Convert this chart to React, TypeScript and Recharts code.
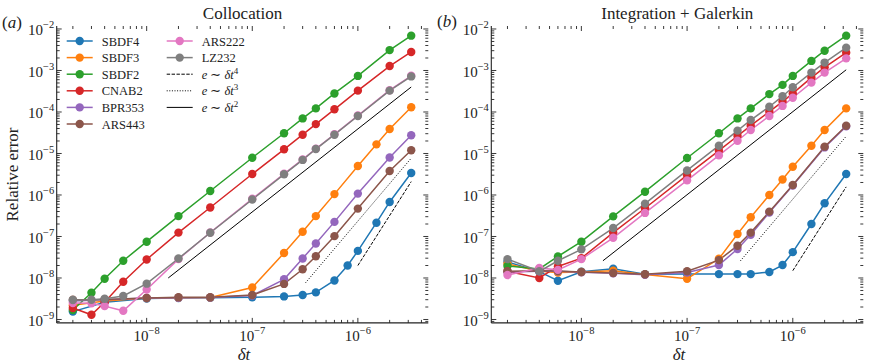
import { LineChart, Line, XAxis, YAxis } from "recharts";

// time steps shared by all runs (null = no run at that step)
const DT = [2e-9, 3e-9, 4e-9, 6e-9, 1e-8, 2e-8, 4e-8, 1e-7, 2e-7, 3e-7, 4e-7, 6e-7, 8e-7, 1e-6, 1.5e-6, 2e-6, 3.2e-6];

const SERIES = ["SBDF4", "SBDF3", "SBDF2", "CNAB2", "BPR353", "ARS443", "ARS222", "LZ232"];
const COLORS: Record<string, string> = {
  SBDF4: "#1f77b4",
  SBDF3: "#ff7f0e",
  SBDF2: "#2ca02c",
  CNAB2: "#d62728",
  BPR353: "#9467bd",
  ARS443: "#8c564b",
  ARS222: "#e377c2",
  LZ232: "#7f7f7f",
};

// (a) Collocation
const COLL_SBDF4 = [1.55e-9, null, 2.6e-9, null, 3.2e-9, 3.3e-9, 3.35e-9, 3.45e-9, 3.6e-9, 3.9e-9, 4.5e-9, 8.7e-9, 2.0e-8, 4.5e-8, 2.15e-7, 6.8e-7, 3.4e-6];
const COLL_SBDF3 = [2.2e-9, null, 2.8e-9, null, 3.3e-9, 3.35e-9, 3.4e-9, 5.9e-9, 4.0e-8, 1.3e-7, 3.1e-7, 1.05e-6, null, 5.0e-6, 1.66e-5, 3.9e-5, 1.3e-4];
const COLL_SBDF2 = [1.7e-9, 4.4e-9, 9.6e-9, 2.6e-8, 7.5e-8, 3.1e-7, 1.25e-6, 7.9e-6, 3.07e-5, 7.0e-5, 1.22e-4, 2.8e-4, null, 7.4e-4, null, 3.1e-3, 6.9e-3];
const COLL_CNAB2 = [1.9e-9, 1.3e-9, 2.6e-9, 8.1e-9, 2.8e-8, 1.24e-7, 5.0e-7, 3.2e-6, 1.26e-5, 2.84e-5, 5.1e-5, 1.16e-4, null, 3.27e-4, null, 1.28e-3, 2.8e-3];
const COLL_BPR353 = [2.8e-9, null, 3.0e-9, null, 3.3e-9, 3.35e-9, 3.4e-9, 3.8e-9, 9.3e-9, 2.95e-8, 6.8e-8, 2.25e-7, null, 1.08e-6, null, 8.0e-6, 2.75e-5];
const COLL_ARS443 = [3.0e-9, null, 3.05e-9, null, 3.3e-9, 3.45e-9, 3.45e-9, 3.9e-9, 7.2e-9, 1.62e-8, 3.35e-8, 1.02e-7, null, 4.7e-7, null, 3.8e-6, 1.2e-5];
const COLL_ARS222 = [2.5e-9, 2.45e-9, 2.1e-9, 1.62e-9, 5.3e-9, 2.85e-8, 1.25e-7, 8.1e-7, 3.25e-6, 7.2e-6, 1.3e-5, 2.9e-5, null, 8.2e-5, null, 3.35e-4, 7.45e-4];
const COLL_LZ232 = [2.95e-9, 3.0e-9, 3.15e-9, 3.7e-9, 7.3e-9, 2.95e-8, 1.23e-7, 7.8e-7, 3.15e-6, 7.0e-6, 1.28e-5, 2.84e-5, null, 8.0e-5, null, 3.27e-4, 7.2e-4];

// (b) Integration + Galerkin
const GAL_SBDF4 = [2.45e-8, null, 1.42e-8, 8.6e-9, 1.42e-8, 1.68e-8, 1.23e-8, 1.24e-8, 1.24e-8, 1.24e-8, 1.24e-8, 1.4e-8, 2.05e-8, 4.2e-8, 2.0e-7, 6.3e-7, 3.2e-6];
const GAL_SBDF3 = [2.2e-8, null, 1.45e-8, 1.35e-8, 1.4e-8, 1.5e-8, 1.22e-8, 9.6e-9, 2.9e-8, 1.15e-7, 2.9e-7, 1.0e-6, 2.36e-6, 4.8e-6, 1.54e-5, 3.68e-5, 1.22e-4];
const GAL_SBDF2 = [1.95e-8, null, 1.65e-8, 3.3e-8, 7.5e-8, 3.05e-7, 1.2e-6, 7.8e-6, 3.07e-5, 7.0e-5, 1.22e-4, 2.7e-4, 4.5e-4, 7.4e-4, 1.7e-3, 3.0e-3, 6.9e-3];
const GAL_CNAB2 = [1.45e-8, null, 1.0e-8, 1.9e-8, 3.0e-8, 1.24e-7, 4.8e-7, 3.0e-6, 1.17e-5, 2.64e-5, 4.67e-5, 1.02e-4, 1.78e-4, 2.8e-4, 6.7e-4, 1.19e-3, 2.69e-3];
const GAL_BPR353 = [1.4e-8, null, 1.45e-8, 1.45e-8, 1.38e-8, 1.3e-8, 1.2e-8, 1.35e-8, 2.06e-8, 5.0e-8, 1.1e-7, 3.8e-7, null, 1.7e-6, null, 1.4e-5, 4.5e-5];
const GAL_ARS443 = [1.45e-8, null, 1.5e-8, 1.48e-8, 1.4e-8, 1.32e-8, 1.23e-8, 1.45e-8, 2.7e-8, 6.0e-8, 1.24e-7, 3.97e-7, null, 1.74e-6, null, 1.46e-5, 4.67e-5];
const GAL_ARS222 = [1.18e-8, null, 1.75e-8, 1.57e-8, 2.85e-8, 9.3e-8, 3.7e-7, 2.25e-6, 9.0e-6, 2.03e-5, 3.68e-5, 8.0e-5, 1.4e-4, 2.2e-4, 5.1e-4, 8.9e-4, 1.96e-3];
const GAL_LZ232 = [2.85e-8, null, 1.45e-8, 2.6e-8, 4.9e-8, 1.6e-7, 6.2e-7, 3.9e-6, 1.54e-5, 3.55e-5, 6.4e-5, 1.34e-4, 2.4e-4, 3.94e-4, 8.9e-4, 1.55e-3, 3.55e-3];

// slope guides: end points in dt and error
const REF4_DT = [1e-6, 3.2e-6];
const REF3_DT = [3.2e-7, 3.2e-6];
const REF2_DT = [1.6e-8, 3.2e-6];
const COLL_REF4 = [2.0e-8, 2.1e-6];
const COLL_REF3 = [7.7e-9, 7.7e-6];
const COLL_REF2 = [1.0e-8, 4.0e-4];
const GAL_REF4 = [1.5e-8, 1.57e-6];
const GAL_REF3 = [2.6e-8, 2.6e-5];
const GAL_REF2 = [2.6e-8, 1.04e-3];

// axes
const X_DOMAIN = [1.406e-9, 4.645e-6];
const Y_DOMAIN = [8.28e-10, 1.18e-2];
const X_MAJOR = [1e-8, 1e-7, 1e-6];
const X_EXP = ["−8", "−7", "−6"];
const Y_MAJOR = [1e-9, 1e-8, 1e-7, 1e-6, 1e-5, 1e-4, 1e-3, 1e-2];
const Y_EXP = ["−9", "−8", "−7", "−6", "−5", "−4", "−3", "−2"];

const minorTicks = (decades: number[], domain: number[]) => {
  const out: number[] = [];
  [decades[0] / 10, ...decades].forEach((d) => {
    for (let m = 2; m <= 9; m++) {
      const v = d * m;
      if (v > domain[0] && v < domain[1]) out.push(v);
    }
  });
  return out;
};
const X_TICKS = [...X_MAJOR, ...minorTicks(X_MAJOR, X_DOMAIN)].sort((a, b) => a - b);
const Y_TICKS = [...Y_MAJOR, ...minorTicks(Y_MAJOR, Y_DOMAIN)].sort((a, b) => a - b);

const FONT = "'Liberation Serif', 'Times New Roman', serif";
const INK = "#222";

type Plot = { left: number; right: number; top: number; bottom: number };

const buildRows = (cols: Record<string, (number | null)[]>) =>
  DT.map((dt, i) => {
    const row: Record<string, number | null> = { dt };
    SERIES.forEach((s) => (row[s] = cols[s][i]));
    return row;
  });

const refRows = (dts: number[], es: number[]) => dts.map((dt, i) => ({ dt, e: es[i] }));

const COLL_ROWS = buildRows({
  SBDF4: COLL_SBDF4, SBDF3: COLL_SBDF3, SBDF2: COLL_SBDF2, CNAB2: COLL_CNAB2,
  BPR353: COLL_BPR353, ARS443: COLL_ARS443, ARS222: COLL_ARS222, LZ232: COLL_LZ232,
});
const GAL_ROWS = buildRows({
  SBDF4: GAL_SBDF4, SBDF3: GAL_SBDF3, SBDF2: GAL_SBDF2, CNAB2: GAL_CNAB2,
  BPR353: GAL_BPR353, ARS443: GAL_ARS443, ARS222: GAL_ARS222, LZ232: GAL_LZ232,
});

function xTick(plot: Plot) {
  return (props: any) => {
    const { x, payload } = props;
    const i = X_MAJOR.indexOf(payload.value);
    const len = i >= 0 ? 5 : 3;
    return (
      <g>
        <line x1={x} x2={x} y1={plot.bottom} y2={plot.bottom - len} stroke={INK} strokeWidth={0.9} />
        <line x1={x} x2={x} y1={plot.top} y2={plot.top + len} stroke={INK} strokeWidth={0.9} />
        {i >= 0 && (
          <text x={x} y={plot.bottom + 18.5} textAnchor="middle" fontFamily={FONT} fontSize={15} fill={INK}>
            10<tspan dy={-7} fontSize={10.5}>{X_EXP[i]}</tspan>
          </text>
        )}
      </g>
    );
  };
}

function yTick(plot: Plot) {
  return (props: any) => {
    const { y, payload } = props;
    const i = Y_MAJOR.indexOf(payload.value);
    const len = i >= 0 ? 5 : 3;
    return (
      <g>
        <line x1={plot.left} x2={plot.left + len} y1={y} y2={y} stroke={INK} strokeWidth={0.9} />
        <line x1={plot.right} x2={plot.right - len} y1={y} y2={y} stroke={INK} strokeWidth={0.9} />
        {i >= 0 && (
          <text x={plot.left - 2.5} y={y + 6.5} textAnchor="end" fontFamily={FONT} fontSize={15} fill={INK}>
            10<tspan dy={-7} fontSize={10.5}>{Y_EXP[i]}</tspan>
          </text>
        )}
      </g>
    );
  };
}

function Panel({
  rows, refs, width, left, plot,
}: {
  rows: Record<string, number | null>[];
  refs: { dt: number; e: number }[][];
  width: number;
  left: number;
  plot: Plot;
}) {
  const height = 363;
  const frame = { stroke: INK, strokeWidth: 1.1 };
  return (
    <div style={{ position: "absolute", left, top: 0 }}>
      <LineChart
        width={width}
        height={height}
        data={rows}
        margin={{ top: plot.top, right: width - plot.right, bottom: 0, left: 0 }}
      >
        <XAxis
          dataKey="dt" type="number" scale="log" domain={X_DOMAIN} allowDataOverflow
          ticks={X_TICKS} interval={0} tick={xTick(plot)} tickLine={false} axisLine={frame}
          height={height - plot.bottom}
        />
        <XAxis
          xAxisId="top" orientation="top" dataKey="dt" type="number" scale="log" domain={X_DOMAIN}
          allowDataOverflow tick={false} tickLine={false} axisLine={frame} height={0}
        />
        <YAxis
          type="number" scale="log" domain={Y_DOMAIN} allowDataOverflow ticks={Y_TICKS} interval={0}
          tick={yTick(plot)} tickLine={false} axisLine={frame} width={plot.left}
        />
        <YAxis
          yAxisId="right" orientation="right" type="number" scale="log" domain={Y_DOMAIN}
          allowDataOverflow tick={false} tickLine={false} axisLine={frame} width={0}
        />
        {SERIES.map((s) => (
          <Line
            key={s}
            name={s}
            dataKey={s}
            stroke={COLORS[s]}
            strokeWidth={1.5}
            dot={{ r: 4.2, fill: COLORS[s], stroke: COLORS[s], strokeWidth: 0 }}
            activeDot={false}
            connectNulls
            isAnimationActive={false}
          />
        ))}
        {refs.map((d, i) => (
          <Line
            key={"ref" + i}
            data={d}
            dataKey="e"
            stroke="#000"
            strokeWidth={1}
            strokeDasharray={["3.4 1.5", "1 1.6", undefined][i]}
            dot={false}
            activeDot={false}
            isAnimationActive={false}
          />
        ))}
      </LineChart>
    </div>
  );
}

const LEGEND_COL1 = ["SBDF4", "SBDF3", "SBDF2", "CNAB2", "BPR353", "ARS443"];
const LEGEND_COL2 = ["ARS222", "LZ232"];
const LEGEND_REF = [
  { exp: "4", dash: "3.4 1.5" },
  { exp: "3", dash: "1 1.6" },
  { exp: "2", dash: undefined as string | undefined },
];

function Overlay() {
  const rowY = (i: number) => 41 + i * 16.6;
  const item = (x: number, i: number, color: string, label: any, dash?: string, marker = true) => (
    <g key={x + "-" + i}>
      <line x1={x} x2={x + 26} y1={rowY(i)} y2={rowY(i)} stroke={color} strokeWidth={marker ? 1.5 : 1} strokeDasharray={dash} />
      {marker && <circle cx={x + 13} cy={rowY(i)} r={4.2} fill={color} />}
      <text x={x + 35} y={rowY(i) + 4.5} fontFamily={FONT} fontSize={12.5} fill={INK}>
        {label}
      </text>
    </g>
  );
  return (
    <svg width={872} height={363} style={{ position: "absolute", left: 0, top: 0, pointerEvents: "none" }}>
      <text x={242.5} y={18.5} textAnchor="middle" fontFamily={FONT} fontSize={17} fill={INK}>Collocation</text>
      <text x={677.3} y={18.5} textAnchor="middle" fontFamily={FONT} fontSize={17} fill={INK}>Integration + Galerkin</text>
      <text x={2} y={28} fontFamily={FONT} fontSize={17} fill={INK}>(<tspan fontStyle="italic">a</tspan>)</text>
      <text x={437} y={27} fontFamily={FONT} fontSize={17} fill={INK}>(<tspan fontStyle="italic">b</tspan>)</text>
      <text
        x={12.5} y={174.5} transform="rotate(-90 12.5 174.5)" textAnchor="middle" dominantBaseline="central"
        fontFamily={FONT} fontSize={17} fill={INK}
      >
        Relative error
      </text>
      <text x={244} y={359.5} textAnchor="middle" fontFamily={FONT} fontSize={17} fontStyle="italic" fill={INK}>δt</text>
      <text x={679} y={359.5} textAnchor="middle" fontFamily={FONT} fontSize={17} fontStyle="italic" fill={INK}>δt</text>
      {LEGEND_COL1.map((s, i) => item(66.7, i, COLORS[s], s))}
      {LEGEND_COL2.map((s, i) => item(166.7, i, COLORS[s], s))}
      {LEGEND_REF.map((r, i) =>
        item(
          166.7,
          i + 2,
          "#000",
          <>
            <tspan fontStyle="italic">e</tspan> ∼ <tspan fontStyle="italic">δt</tspan>
            <tspan dy={-5} fontSize={9}>{r.exp}</tspan>
          </>,
          r.dash,
          false,
        ),
      )}
    </svg>
  );
}

export default function App() {
  return (
    <div style={{ position: "absolute", left: 0, top: 0, width: 872, height: 363, background: "#fff", fontFamily: FONT }}>
      <Panel
        rows={COLL_ROWS}
        refs={[refRows(REF4_DT, COLL_REF4), refRows(REF3_DT, COLL_REF3), refRows(REF2_DT, COLL_REF2)]}
        width={440}
        left={0}
        plot={{ left: 56.7, right: 428.3, top: 26, bottom: 322.9 }}
      />
      <Panel
        rows={GAL_ROWS}
        refs={[refRows(REF4_DT, GAL_REF4), refRows(REF3_DT, GAL_REF3), refRows(REF2_DT, GAL_REF2)]}
        width={432}
        left={440}
        plot={{ left: 51.3, right: 423.3, top: 26, bottom: 322.9 }}
      />
      <Overlay />
    </div>
  );
}
